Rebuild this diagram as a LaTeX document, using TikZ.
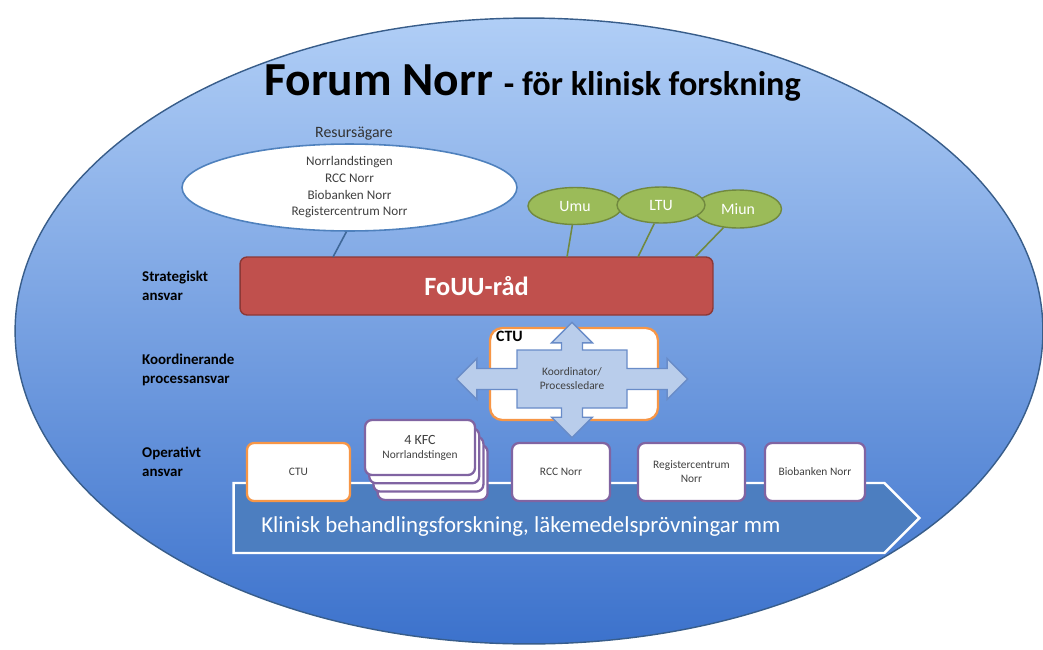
\documentclass[tikz,border=0pt]{standalone}
\usepackage{fontspec}
\setmainfont{Carlito}
\usetikzlibrary{shapes.geometric,shapes.arrows,shapes.symbols}
\definecolor{skyTop}{RGB}{176,206,246}
\definecolor{skyBot}{RGB}{60,114,204}
\definecolor{skyLine}{RGB}{56,93,138}
\definecolor{barRed}{RGB}{192,80,77}
\definecolor{barLine}{RGB}{140,56,54}
\definecolor{uniGreen}{RGB}{155,187,89}
\definecolor{uniLine}{RGB}{113,137,63}
\definecolor{ctuOrange}{RGB}{247,150,70}
\definecolor{kfcPurple}{RGB}{128,100,162}
\definecolor{crossFill}{RGB}{185,205,235}
\definecolor{crossLine}{RGB}{105,140,200}
\definecolor{flowBlue}{RGB}{76,126,192}
\definecolor{ownLine}{RGB}{79,129,189}
\definecolor{txtGray}{RGB}{64,64,64}
\tikzset{%
  % Specifications for style of nodes:
         level/.style = {anchor=west, align=left, font=\bfseries\fontsize{8.5}{11}\selectfont},
         owner/.style = {ellipse, draw=ownLine, line width=0.9pt, fill=white,
                         minimum width=6.7cm, minimum height=1.58cm, inner sep=0pt,
                         align=center, font=\fontsize{7.5}{9.5}\selectfont, text=txtGray},
           uni/.style = {ellipse, draw=uniLine, line width=0.8pt, fill=uniGreen,
                         inner sep=0pt, text=white, font=\fontsize{9}{10}\selectfont},
          unit/.style = {rectangle, rounded corners=4pt, fill=white, line width=1.3pt,
                         minimum height=1.16cm, align=center, text=txtGray,
                         font=\fontsize{6.5}{8}\selectfont},
       ctuunit/.style = {unit, draw=ctuOrange},
       orgunit/.style = {unit, draw=kfcPurple},
        kfcbox/.style = {orgunit, minimum width=2.2cm, minimum height=1.1cm},
          link/.style = {line width=0.9pt},
}
\begin{document}
\begin{tikzpicture}[x=0.02cm, y=-0.02cm]
  \fill[white] (0,0) rectangle (1043,649);
  \useasboundingbox (0,0) rectangle (1043,649);
  % background ellipse and heading
  \node (forum) [ellipse, draw=skyLine, line width=0.8pt, top color=skyTop, bottom color=skyBot,
                 minimum width=20.56cm, minimum height=12.52cm, inner sep=0pt] at (529,331) {};
  \node (title) [anchor=base west, inner sep=0pt] at (264,95)
        {\bfseries\fontsize{27}{30}\selectfont Forum Norr \fontsize{19.5}{22}\selectfont - för klinisk forskning};

  % resource owners and universities
  \node (resurstitle) [font=\fontsize{9}{11}\selectfont, text=black!80] at (354,134) {Resursägare};
  \node (resurs) [owner] at (349.5,187.5) {Norrlandstingen\\RCC Norr\\Biobanken Norr\\Registercentrum Norr};
  \node (umu)  [uni, minimum width=1.88cm, minimum height=0.74cm] at (575,206) {Umu};
  \node (miun) [uni, minimum width=1.74cm, minimum height=0.76cm] at (738,209) {Miun};
  \node (ltu)  [uni, minimum width=1.76cm, minimum height=0.72cm] at (661,205) {LTU};

  % levels of responsibility
  \node (strat) [level] at (136,285.5) {Strategiskt\\ansvar};
  \node (koordlevel) [level] at (136,370) {Koordinerande\\processansvar};
  \node (oper) [level] at (136,462) {Operativt\\ansvar};

  \node (fouu) [rectangle, rounded corners=4pt, draw=barLine, line width=0.8pt, fill=barRed,
                minimum width=9.46cm, minimum height=1.16cm, text=white,
                font=\bfseries\fontsize{15}{17}\selectfont] at (476.5,286) {FoUU-råd};

  \coordinate (r1) at (333,257);
  \coordinate (u1) at (567,257);
  \coordinate (l1) at (638,257);
  \coordinate (m1) at (695,257);
  \draw[link, draw=ownLine!80!black] (resurs.266) -- (r1);
  \draw[link, draw=uniLine] (umu.262) -- (u1);
  \draw[link, draw=uniLine] (ltu.250) -- (l1);
  \draw[link, draw=uniLine] (miun.232) -- (m1);

  % coordination
  \node (ctubox) [ctuunit, rounded corners=7pt, minimum width=3.36cm, minimum height=1.84cm] at (574,374) {};
  \node (ctutitle) [anchor=north west, inner sep=0pt, font=\bfseries\fontsize{9}{10}\selectfont]
        at ([xshift=0.14cm, yshift=-0.08cm]ctubox.north west) {CTU};
  \node (koord) [arrow box, draw=crossLine, line width=0.8pt, fill=crossFill,
                 arrow box arrows={north:0.54cm, south:0.58cm, east:1.2cm, west:1.2cm},
                 arrow box shaft width=0.42cm, arrow box head extend=0.2cm, arrow box tip angle=90,
                 minimum width=2.2cm, minimum height=1.16cm, inner sep=0pt, align=center,
                 text=txtGray, font=\fontsize{6.5}{8}\selectfont] at (572,379) {Koordinator/\\Processledare};

  % operative level
  \node (flow) [signal, signal to=east, signal pointer angle=90, draw=white, line width=1.4pt,
                fill=flowBlue, minimum width=13.72cm, minimum height=1.4cm, inner sep=0pt] at (559,518) {};
  \node (flowtext) [anchor=west, inner sep=0pt, text=white, font=\fontsize{13}{15}\selectfont]
        at (261,527) {Klinisk behandlingsforskning, läkemedelsprövningar mm};

  \node (ctu) [ctuunit, minimum width=2.06cm] at (298.5,472) {CTU};
  \foreach \i in {3,2,1}
    \node (kfc\i) [kfcbox] at (420+4.2*\i,447.5+8.3*\i) {};
  \node (kfc) [kfcbox] at (420,447.5) {{\fontsize{8}{10}\selectfont 4 KFC}\\Norrlandstingen};
  \node (rcc) [orgunit, minimum width=1.96cm] at (561,472) {RCC Norr};
  \node (reg) [orgunit, minimum width=2.14cm] at (691.5,472) {Registercentrum\\Norr};
  \node (bio) [orgunit, minimum width=2.0cm] at (815,472) {Biobanken Norr};
\end{tikzpicture}
\end{document}
